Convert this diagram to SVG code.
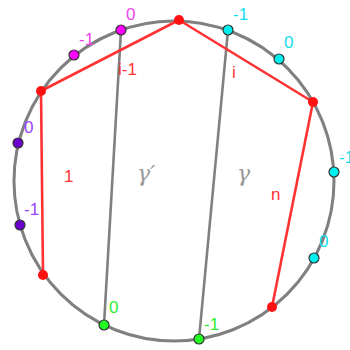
<svg xmlns="http://www.w3.org/2000/svg" width="350" height="350" viewBox="0 0 350 350">
<style>
.lbl{font-family:"Liberation Sans",Arial,sans-serif;font-size:17px}
.pt{stroke:#333;stroke-width:1.2}
.chord{stroke:#808080;stroke-width:2.6;fill:none}
.poly{stroke:#ff3333;stroke-width:2.6;fill:none;stroke-linejoin:round}
.rp{fill:#ff1111}
.gam{font-family:"DejaVu Serif","Liberation Serif",serif;font-style:italic;font-size:22px;fill:#9a9a9a}
</style>
<rect width="350" height="350" fill="#ffffff"/>
<g id="circle"><circle cx="174" cy="181" r="160" fill="none" stroke="#808080" stroke-width="3"/></g>
<g id="connectors">
<line class="chord" x1="121" y1="30" x2="104" y2="325"/>
<line class="chord" x1="228" y1="30" x2="199" y2="339"/>
<polyline class="poly" points="43,275 41,91 179,20 313,102 272,307"/>
</g>
<g id="red-points">
<circle class="rp" cx="43" cy="275" r="5"/>
<circle class="rp" cx="41" cy="91" r="5"/>
<circle class="rp" cx="179" cy="20" r="5"/>
<circle class="rp" cx="313" cy="102" r="5"/>
<circle class="rp" cx="272" cy="307" r="5"/>
</g>
<g id="magenta">
<circle class="pt" cx="121" cy="30" r="5" fill="#ff00ff"/>
<circle class="pt" cx="74" cy="55" r="5" fill="#ff00ff"/>
<text class="lbl" x="126" y="20" fill="#ee44ee">0</text>
<text class="lbl" x="79" y="45" fill="#ee44ee">-1</text>
</g>
<g id="purple">
<circle class="pt" cx="18" cy="143" r="5" fill="#6a00cc"/>
<circle class="pt" cx="20" cy="225" r="5" fill="#6a00cc"/>
<text class="lbl" x="24" y="133" fill="#9a44ff">0</text>
<text class="lbl" x="24" y="215" fill="#9a44ff">-1</text>
</g>
<g id="cyan">
<circle class="pt" cx="228" cy="30" r="5" fill="#00f0f0"/>
<circle class="pt" cx="279" cy="59" r="5" fill="#00f0f0"/>
<circle class="pt" cx="334" cy="172" r="5" fill="#00f0f0"/>
<circle class="pt" cx="314" cy="258" r="5" fill="#00f0f0"/>
<text class="lbl" x="233" y="20" fill="#11ddee">-1</text>
<text class="lbl" x="284" y="48" fill="#11ddee">0</text>
<text class="lbl" x="339" y="163" fill="#11ddee">-1</text>
<text class="lbl" x="319" y="247" fill="#11ddee">0</text>
</g>
<g id="green">
<circle class="pt" cx="104" cy="325" r="5" fill="#22ff22"/>
<circle class="pt" cx="199" cy="339" r="5" fill="#22ff22"/>
<text class="lbl" x="109" y="313" fill="#33ee33">0</text>
<text class="lbl" x="204" y="330" fill="#33ee33">-1</text>
</g>
<g id="red-labels">
<text class="lbl" x="118" y="75" fill="#ff3333">i-1</text>
<text class="lbl" x="232" y="78" fill="#ff3333">i</text>
<text class="lbl" x="64" y="182" fill="#ff3333">1</text>
<text class="lbl" x="271" y="200" fill="#ff3333">n</text>
</g>
<g id="gamma-labels">
<text class="gam" x="137" y="181">γ′</text>
<text class="gam" x="237" y="181">γ</text>
</g>
</svg>
